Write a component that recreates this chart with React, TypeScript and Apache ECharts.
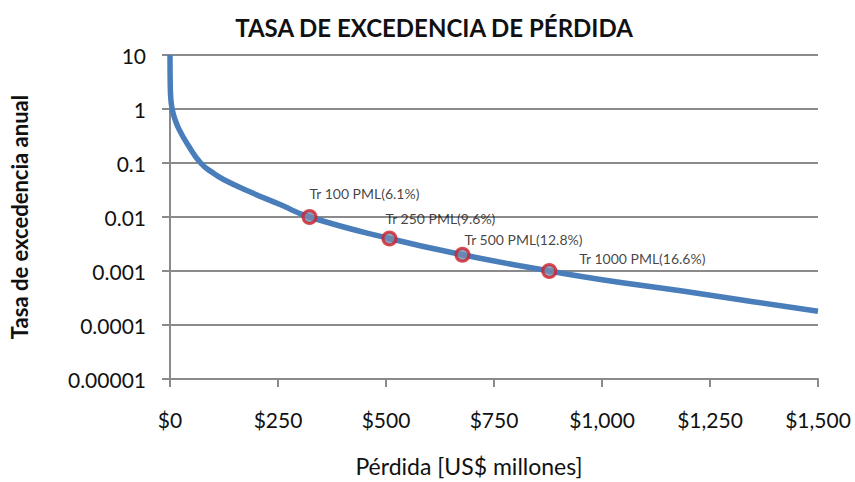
import React, { useEffect, useRef } from "react";
import * as echarts from "echarts";

const lossValues = [0, 0.5, 2, 5, 10, 21, 41, 71, 100, 125, 186, 255, 323, 508, 677, 878, 1000, 1190, 1350, 1500];
const rateValues = [10, 3, 1.5, 1, 0.7, 0.42, 0.22, 0.1, 0.065, 0.049, 0.029, 0.017, 0.01, 0.004, 0.002, 0.001, 0.00069, 0.00042, 0.00027, 0.00018];

const pmlLoss = [323, 508, 677, 878];
const pmlRate = [0.01, 0.004, 0.002, 0.001];
const pmlLabels = ["Tr 100 PML(6.1%)", "Tr 250 PML(9.6%)", "Tr 500 PML(12.8%)", "Tr 1000 PML(16.6%)"];

const yTickLabels = ["0.00001", "0.0001", "0.001", "0.01", "0.1", "1", "10"];

const title = "TASA DE EXCEDENCIA DE PÉRDIDA";
const xTitle = "Pérdida [US$ millones]";
const yTitle = "Tasa de excedencia anual";

const labelOffsets = [
  [0, -16],
  [-4, -12],
  [2, -7],
  [30, -5],
];

export default function App() {
  const ref = useRef<HTMLDivElement>(null);
  useEffect(() => {
    if (!ref.current) return;
    const chart = echarts.init(ref.current, undefined, { renderer: "svg" });
    const font = "Lato, 'Open Sans', sans-serif";
    const gridColor = "#8a8a8a";
    chart.setOption({
      animation: false,
      backgroundColor: "#ffffff",
      title: {
        text: title,
        left: 429,
        top: 10,
        textAlign: "center",
        textStyle: { fontFamily: font, fontSize: 24, fontWeight: "bold", color: "#111111" },
      },
      grid: { left: 164, right: 37, top: 55, bottom: 88, containLabel: false },
      xAxis: {
        type: "value",
        min: 0,
        max: 1500,
        interval: 250,
        name: xTitle,
        nameLocation: "middle",
        nameGap: 75,
        nameTextStyle: { fontFamily: font, fontSize: 23, color: "#111111", padding: [0, 50, 0, 0] },
        axisLine: { show: true, lineStyle: { color: gridColor, width: 2 } },
        axisTick: { show: true, length: 8, lineStyle: { color: gridColor, width: 2 } },
        splitLine: { show: false },
        axisLabel: {
          margin: 30,
          fontFamily: font,
          fontSize: 21,
          color: "#111111",
          formatter: (v: number) => "$" + v.toLocaleString("en-US"),
        },
      },
      yAxis: {
        type: "log",
        logBase: 10,
        min: 0.00001,
        max: 10,
        name: yTitle,
        nameLocation: "middle",
        nameRotate: 90,
        nameGap: 140,
        nameTextStyle: { fontFamily: font, fontSize: 22, fontWeight: "bold", color: "#111111" },
        axisLine: { show: true, lineStyle: { color: gridColor, width: 2 } },
        axisTick: { show: true, length: 8, lineStyle: { color: gridColor, width: 2 } },
        splitLine: { show: true, lineStyle: { color: gridColor, width: 2 } },
        minorTick: { show: false },
        axisLabel: {
          margin: 24,
          fontFamily: font,
          fontSize: 21,
          color: "#111111",
          formatter: (v: number) => {
            const i = Math.round(Math.log10(v)) + 5;
            return yTickLabels[i] ?? String(v);
          },
        },
      },
      series: [
        {
          type: "line",
          data: lossValues.map((x, i) => [x, rateValues[i]]),
          smooth: 0.5,
          showSymbol: false,
          lineStyle: { color: "#4a7ebb", width: 5.5 },
          z: 2,
        },
        {
          type: "scatter",
          data: pmlLoss.map((x, i) => ({
            value: [x, pmlRate[i]],
            label: {
              show: true,
              formatter: pmlLabels[i],
              position: "top",
              distance: 0,
              align: "left",
              verticalAlign: "middle",
              offset: labelOffsets[i],
            },
          })),
          symbol: "circle",
          symbolSize: 13,
          itemStyle: { color: "#7388ad", borderColor: "#d0202a", borderWidth: 3 },
          label: { fontFamily: font, fontSize: 14, color: "#111111" },
          z: 3,
        },
      ],
    });
    return () => chart.dispose();
  }, []);
  return <div ref={ref} style={{ width: 855, height: 482, position: "absolute", left: 0, top: 0 }} />;
}
